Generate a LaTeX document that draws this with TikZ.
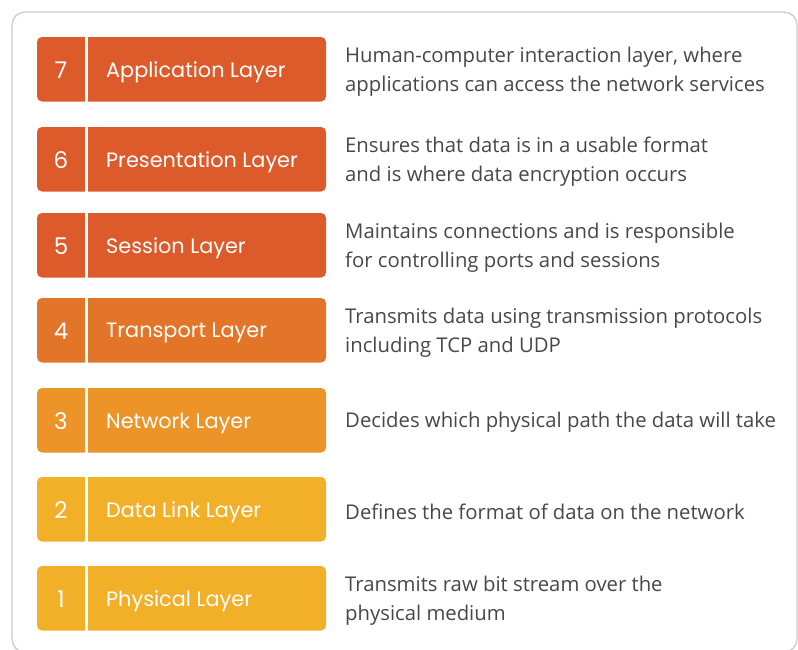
\documentclass[tikz,border=0pt]{standalone}
\usepackage{fontspec}
\setmainfont{Open Sans}
\newfontfamily\labelfont{Poppins}
\usetikzlibrary{positioning}
\definecolor{layred}{HTML}{DD5A2B}
\definecolor{layorange}{HTML}{E37528}
\definecolor{layamber}{HTML}{EC9428}
\definecolor{layyellow}{HTML}{F2AF28}
\definecolor{cardgray}{HTML}{CCCCCC}
\definecolor{desctext}{HTML}{474747}

\tikzset{
  layernum/.style={text=white,font=\labelfont\fontsize{23}{26}\selectfont},
  layername/.style={anchor=west,text=white,inner sep=0pt,font=\labelfont\fontsize{20.8}{24}\selectfont},
  layerdesc/.style={anchor=west,align=left,text=desctext,font=\fontsize{20.3}{28.5}\selectfont,inner sep=0pt}
}

\begin{document}
\begin{tikzpicture}[x=1pt,y=-1pt]
  \useasboundingbox (0,0) rectangle (798,649);
  % card frame, cut by the bottom edge
  \draw[cardgray,line width=1.3pt,rounded corners=13pt] (12,12) rectangle (797,652);
  % one band per layer: number, name, description
  \foreach \n/\top/\name/\desc/\col in {
      7/37/{Application Layer}/{Human-computer interaction layer, where\\applications can access the network services}/layred,
      6/127/{Presentation Layer}/{Ensures that data is in a usable format\\and is where data encryption occurs}/layred,
      5/213/{Session Layer}/{Maintains connections and is responsible\\for controlling ports and sessions}/layred,
      4/298/{Transport Layer}/{Transmits data using transmission protocols\\including TCP and UDP}/layorange,
      3/388/{Network Layer}/{Decides which physical path the data will take}/layamber,
      2/477/{Data Link Layer}/{Defines the format of data on the network}/layyellow,
      1/566/{Physical Layer}/{Transmits raw bit stream over the\\physical medium}/layyellow}{
    \fill[\col,rounded corners=5pt] (37,\top) rectangle (326,\top+64.5);
    \fill[white] (85,\top) rectangle (88,\top+64.5);
    \node[layernum] (num\n) at (61,\top+33) {\n};
    \node[layername] (name\n) at (106,\top+35) {\name};
    \node[layerdesc] (desc\n) at (345,\top+34.5) {\desc};
  }
\end{tikzpicture}
\end{document}
